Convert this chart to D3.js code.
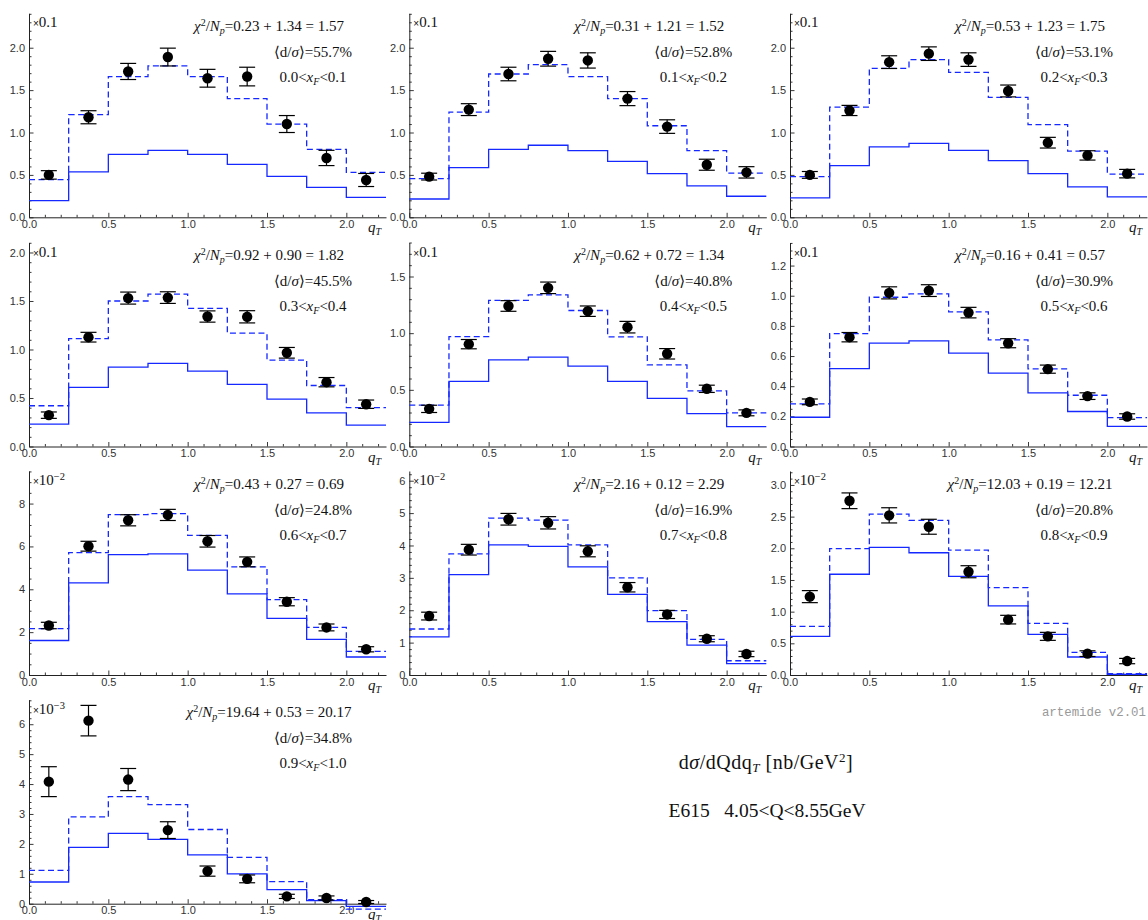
<!DOCTYPE html>
<html><head><meta charset="utf-8">
<script src="https://cdn.jsdelivr.net/npm/d3@7"></script>
<style>
body{margin:0;background:#fff;}
svg{display:block;}
</style></head><body>
<svg id="c" width="1148" height="920"></svg>
<script>
// ---------- data ----------
const binEdges = [0, 0.25, 0.5, 0.75, 1.0, 1.25, 1.5, 1.75, 2.0, 2.25];
const binCenters = [0.125, 0.375, 0.625, 0.875, 1.125, 1.375, 1.625, 1.875, 2.125];
const xTickValues = [0, 0.5, 1.0, 1.5, 2.0];
const xfLow  = ["0.0","0.1","0.2","0.3","0.4","0.5","0.6","0.7","0.8","0.9"];
const xfHigh = ["0.1","0.2","0.3","0.4","0.5","0.6","0.7","0.8","0.9","1.0"];
const chi2Parts = [
  ["0.23","1.34","1.57"],["0.31","1.21","1.52"],["0.53","1.23","1.75"],
  ["0.92","0.90","1.82"],["0.62","0.72","1.34"],["0.16","0.41","0.57"],
  ["0.43","0.27","0.69"],["2.16","0.12","2.29"],["12.03","0.19","12.21"],
  ["19.64","0.53","20.17"]
];
const dsigPercent = ["55.7","52.8","53.1","45.5","40.8","30.9","24.8","16.9","20.8","34.8"];
const scaleExp = [null,null,null,null,null,null,"−2","−2","−2","−3"];
const yMaxValues = [2.406, 2.406, 2.406, 2.103, 1.80, 1.353, 9.52, 6.30, 3.22, 6.82];
const yMajorStep = [0.5, 0.5, 0.5, 0.5, 0.5, 0.2, 2, 1, 0.5, 1];
const yMinorStep = [0.1, 0.1, 0.1, 0.1, 0.1, 0.05, 0.5, 0.2, 0.1, 0.2];
const yDecimals  = [1, 1, 1, 1, 1, 1, 0, 0, 1, 0];

const pointValues = [
  [0.50,1.18,1.72,1.89,1.64,1.66,1.10,0.70,0.44],
  [0.48,1.27,1.69,1.87,1.85,1.40,1.07,0.62,0.53],
  [0.50,1.26,1.83,1.93,1.86,1.49,0.88,0.73,0.515],
  [0.323,1.127,1.53,1.535,1.34,1.337,0.966,0.663,0.436],
  [0.332,0.903,1.24,1.40,1.194,1.053,0.818,0.509,0.297],
  [0.296,0.725,1.019,1.034,0.888,0.685,0.513,0.334,0.199],
  [2.31,6.01,7.22,7.47,6.24,5.28,3.42,2.22,1.20],
  [1.82,3.87,4.81,4.70,3.82,2.71,1.87,1.12,0.65],
  [1.237,2.75,2.52,2.34,1.63,0.874,0.61,0.337,0.22],
  [4.08,6.12,4.15,2.46,1.09,0.83,0.245,0.19,0.056]
];
const pointErrors = [
  [0.05,0.077,0.095,0.105,0.105,0.11,0.10,0.09,0.077],
  [0.04,0.07,0.08,0.087,0.09,0.083,0.08,0.065,0.067],
  [0.04,0.06,0.075,0.08,0.08,0.07,0.063,0.055,0.05],
  [0.033,0.05,0.062,0.06,0.058,0.063,0.055,0.048,0.043],
  [0.032,0.041,0.047,0.051,0.046,0.051,0.046,0.032,0.026],
  [0.019,0.031,0.04,0.039,0.035,0.03,0.027,0.022,0.018],
  [0.15,0.23,0.26,0.26,0.27,0.23,0.19,0.16,0.12],
  [0.12,0.165,0.18,0.19,0.17,0.145,0.125,0.093,0.083],
  [0.095,0.124,0.12,0.118,0.095,0.068,0.063,0.045,0.042],
  [0.50,0.51,0.37,0.28,0.17,0.13,0.07,0.07,0.05]
];
const dashedFit = [
  [0.445,1.21,1.66,1.785,1.66,1.40,1.10,0.80,0.53],
  [0.456,1.24,1.69,1.80,1.66,1.40,1.08,0.786,0.52],
  [0.48,1.30,1.757,1.86,1.71,1.415,1.093,0.78,0.51],
  [0.42,1.113,1.50,1.57,1.423,1.168,0.89,0.629,0.40],
  [0.365,0.97,1.29,1.338,1.20,0.968,0.72,0.49,0.297],
  [0.283,0.749,0.99,1.012,0.893,0.707,0.515,0.34,0.192],
  [2.16,5.71,7.48,7.53,6.52,5.05,3.52,2.22,1.10],
  [1.42,3.74,4.845,4.78,4.02,3.0,1.99,1.10,0.44],
  [0.768,1.995,2.54,2.44,1.97,1.38,0.816,0.358,0.02],
  [1.115,2.90,3.58,3.31,2.48,1.55,0.736,0.134,-0.18]
];
const solidFit = [
  [0.197,0.535,0.743,0.79,0.743,0.625,0.483,0.354,0.236],
  [0.216,0.586,0.80,0.85,0.786,0.66,0.515,0.37,0.248],
  [0.228,0.61,0.83,0.873,0.79,0.668,0.515,0.36,0.24],
  [0.23,0.61,0.818,0.856,0.777,0.64,0.488,0.347,0.22],
  [0.212,0.574,0.765,0.788,0.709,0.574,0.424,0.29,0.176],
  [0.194,0.517,0.685,0.70,0.619,0.486,0.356,0.232,0.133],
  [1.61,4.30,5.62,5.65,4.89,3.79,2.64,1.66,0.84],
  [1.175,3.10,4.02,3.97,3.34,2.49,1.65,0.92,0.35],
  [0.61,1.59,2.015,1.93,1.558,1.09,0.642,0.284,0.01],
  [0.725,1.885,2.35,2.15,1.63,1.00,0.47,0.10,-0.09]
];

// ---------- layout ----------
const SERIF = "'Liberation Serif','DejaVu Serif',serif";
const SANS = "'Liberation Sans',Arial,sans-serif";
const colX = [29, 409.3, 790];
const rowZero = [217.3, 446.5, 675, 903.7];
const plotH = 204;
const xWidth = 357;
const BLUE = "#1428ff";

const svg = d3.select("#c");

function rich(g, x, y, anchor, size, parts) {
  const t = g.append("text").attr("x", x).attr("y", y)
    .attr("text-anchor", anchor).attr("font-family", SERIF)
    .attr("font-size", size).attr("fill", "#111");
  let cur = 0;
  parts.forEach(p => {
    const sh = p.shift || 0;
    const ts = t.append("tspan").text(p.t).attr("dy", sh - cur);
    cur = sh;
    if (p.i) ts.attr("font-style", "italic");
    if (p.s) ts.attr("font-size", p.s);
    if (p.f) ts.attr("font-family", p.f);
  });
  return t;
}

function range(start, stop, step) {
  const out = [];
  const n = Math.floor((stop - start) / step + 1e-6);
  for (let i = 0; i <= n; i++) out.push(+(start + i * step).toFixed(6));
  return out;
}

for (let k = 0; k < 10; k++) {
  const col = k % 3, row = Math.floor(k / 3);
  const ax = colX[col], zero = rowZero[row], top = zero - plotH;
  const g = svg.append("g");

  const x = d3.scaleLinear().domain([0, 2.25]).range([ax, ax + xWidth]);
  const y = d3.scaleLinear().domain([0, yMaxValues[k]]).range([zero, top]);

  // minor ticks x
  const xMinor = d3.axisBottom(x).tickValues(range(0, 2.2, 0.1).filter(v => Math.abs(v*2 - Math.round(v*2)) > 1e-6))
    .tickSize(-2.5).tickSizeOuter(0).tickFormat("");
  const gxm = g.append("g").attr("transform", `translate(0,${zero})`).call(xMinor);
  gxm.select(".domain").remove();
  const xMajor = d3.axisBottom(x).tickValues(xTickValues).tickSize(-4.5).tickSizeOuter(0)
    .tickPadding(3).tickFormat(d3.format(".1f"));
  const gx = g.append("g").attr("transform", `translate(0,${zero})`).call(xMajor);

  // y ticks
  const yTop = yMaxValues[k];
  const majors = range(0, yTop, yMajorStep[k]);
  const minors = range(0, yTop, yMinorStep[k]).filter(v => !majors.some(m => Math.abs(m - v) < 1e-6));
  const yMinorAx = d3.axisLeft(y).tickValues(minors).tickSize(-2.5).tickSizeOuter(0).tickFormat("");
  const gym = g.append("g").attr("transform", `translate(${ax},0)`).call(yMinorAx);
  gym.select(".domain").remove();
  const yMajorAx = d3.axisLeft(y).tickValues(majors).tickSize(-4.5).tickSizeOuter(0)
    .tickPadding(4).tickFormat(d3.format("." + yDecimals[k] + "f"));
  const gy = g.append("g").attr("transform", `translate(${ax},0)`).call(yMajorAx);

  [gx, gy, gxm, gym].forEach(a => {
    a.selectAll("text").attr("font-family", SANS).attr("font-size", 11).attr("fill", "#333");
    a.selectAll("line").attr("stroke", "#222").attr("stroke-width", 0.9);
    a.selectAll(".domain").attr("stroke", "#222").attr("stroke-width", 1);
  });

  // histograms
  const step = d3.line().x(d => x(d[0])).y(d => y(d[1])).curve(d3.curveStepAfter);
  const mk = vals => binEdges.map((e, i) => [e, vals[Math.min(i, vals.length - 1)]]);
  g.append("path").attr("d", step(mk(solidFit[k]))).attr("fill", "none")
    .attr("stroke", BLUE).attr("stroke-width", 1.3);
  g.append("path").attr("d", step(mk(dashedFit[k]))).attr("fill", "none")
    .attr("stroke", BLUE).attr("stroke-width", 1.3).attr("stroke-dasharray", "6,3.5");

  // error bars
  const eb = g.append("g").attr("stroke", "#000").attr("stroke-width", 1.2);
  binCenters.forEach((c, i) => {
    const v = pointValues[k][i], e = pointErrors[k][i];
    const cx = x(c);
    eb.append("line").attr("x1", cx).attr("x2", cx).attr("y1", y(v - e)).attr("y2", y(v + e));
    eb.append("line").attr("x1", cx - 8).attr("x2", cx + 8).attr("y1", y(v - e)).attr("y2", y(v - e));
    eb.append("line").attr("x1", cx - 8).attr("x2", cx + 8).attr("y1", y(v + e)).attr("y2", y(v + e));
  });
  g.append("g").selectAll("circle").data(binCenters).join("circle")
    .attr("cx", d => x(d)).attr("cy", (d, i) => y(pointValues[k][i])).attr("r", 5.2).attr("fill", "#000");

  // scale label
  if (scaleExp[k] === null) {
    rich(g, ax + 4, top + 14, "start", 15, [{t: "×", s: 10, f: SANS}, {t: "0.1"}]);
  } else {
    rich(g, ax + 4, top + 14, "start", 15, [{t: "×", s: 10, f: SANS}, {t: "10"}, {t: scaleExp[k], shift: -5, s: 10.5}]);
  }

  // annotations
  const cp = chi2Parts[k];
  rich(g, ax + 240, top + 17.5, "middle", 15, [
    {t: "χ", i: 1}, {t: "2", shift: -5, s: 10}, {t: "/"}, {t: "N", i: 1},
    {t: "p", i: 1, shift: 3, s: 10}, {t: "=" + cp[0] + " + " + cp[1] + " = " + cp[2]}
  ]);
  rich(g, ax + 284, top + 43.5, "middle", 15, [
    {t: "⟨d/"}, {t: "σ", i: 1}, {t: "⟩=" + dsigPercent[k] + "%"}
  ]);
  rich(g, ax + 284, top + 68.5, "middle", 15, [
    {t: xfLow[k] + "<"}, {t: "x", i: 1}, {t: "F", i: 1, shift: 3, s: 10}, {t: "<" + xfHigh[k]}
  ]);
  // axis label
  rich(g, ax + 339, zero + 15, "start", 15, [{t: "q", i: 1}, {t: "T", i: 1, shift: 3, s: 10}]);
}

// footer texts
svg.append("text").attr("x", 1146).attr("y", 716).attr("text-anchor", "end")
  .attr("font-family", "'Liberation Mono','DejaVu Sans Mono',monospace").attr("font-size", 12.4)
  .attr("fill", "#999").text("artemide v2.01");
rich(svg, 766, 769, "middle", 20, [
  {t: "d"}, {t: "σ", i: 1}, {t: "/dQdq"}, {t: "T", i: 1, shift: 3, s: 13},
  {t: " [nb/GeV"}, {t: "2", shift: -7, s: 13}, {t: "]"}
]).attr("letter-spacing", 0.5);
rich(svg, 767, 817, "middle", 19.5, [{t: "E615\u00a0\u00a0\u00a04.05<Q<8.55GeV"}]);
</script>
</body></html>
